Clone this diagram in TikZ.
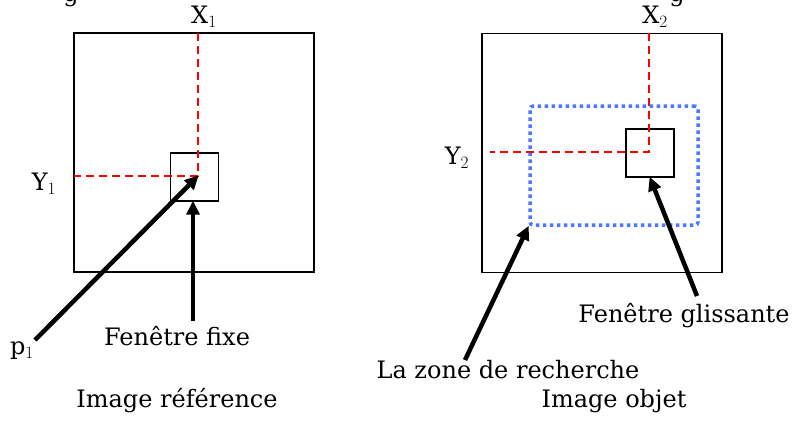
\documentclass[tikz,border=0pt]{standalone}
\usepackage{fontspec}
\setmainfont{DejaVu Serif}
\usetikzlibrary{arrows.meta}
\begin{document}
\begin{tikzpicture}[x=1pt,y=-1pt,
  every node/.style={font=\fontsize{24}{28}\selectfont, inner sep=0pt},
  bigbox/.style={draw, line width=1.6pt, minimum width=240pt, minimum height=239pt},
  smallbox/.style={draw, line width=1.4pt, minimum width=48pt, minimum height=48pt},
  guide/.style={red, dashed, line width=1.6pt, dash pattern=on 8pt off 5pt},
  zone/.style={draw=blue!75!cyan!70!white, line width=3.5pt, dash pattern=on 3.5pt off 3.5pt, rounded corners=3pt},
  pointer/.style={line width=4.5pt, -{Triangle[length=14pt,width=13pt]}, shorten >=-1pt}]
\useasboundingbox (0,0) rectangle (798,424);
% cut-off text at top
\node[anchor=base] (gl) at (71,1) {g};
\node[anchor=base] (gr) at (677,1) {g};
% left image
\node[bigbox] (big1) at (194,152.5) {};
\node[smallbox] (win1) at (194.5,177) {};
\coordinate (p1c) at (198,176);
\coordinate (x1top) at (198,33);
\coordinate (y1left) at (74,176);
\draw[guide] (x1top) -- (p1c) -- (y1left);
\node (X1) at (204,17) {X$_{\fontsize{20}{20}\selectfont 1}$};
\node (Y1) at (44,184) {Y$_{\fontsize{20}{20}\selectfont 1}$};
\node (p1) at (22,351) {p$_{\fontsize{20}{20}\selectfont 1}$};
\node (fix) at (177,336) {Fenêtre fixe};
\node (ref) at (177,401) {Image référence};
\coordinate (p1s) at (35,340);
\coordinate (fixs) at (193,321);
\draw[pointer] (p1s) -- (p1c);
\draw[pointer] (fixs) -- (win1.south -| fixs);
% right image
\node[bigbox] (big2) at (602,153) {};
\node[zone, minimum width=168pt, minimum height=119pt] (zone) at (614,165.5) {};
\node[smallbox] (win2) at (650,153) {};
\coordinate (p2c) at (649,152);
\coordinate (x2top) at (649,33);
\coordinate (y2left) at (490,152);
\draw[guide] (x2top) -- (p2c) -- (y2left);
\node (X2) at (655,17) {X$_{\fontsize{20}{20}\selectfont 2}$};
\node (Y2) at (457,158) {Y$_{\fontsize{20}{20}\selectfont 2}$};
\node (gli) at (684,316) {Fenêtre glissante};
\node (rech) at (508,370) {La zone de recherche};
\node (obj) at (614,401) {Image objet};
\coordinate (glis) at (697,296);
\coordinate (rechs) at (465,360);
\draw[pointer] (glis) -- (win2.south);
\draw[pointer] (rechs) -- (zone.south west);
\end{tikzpicture}
\end{document}
